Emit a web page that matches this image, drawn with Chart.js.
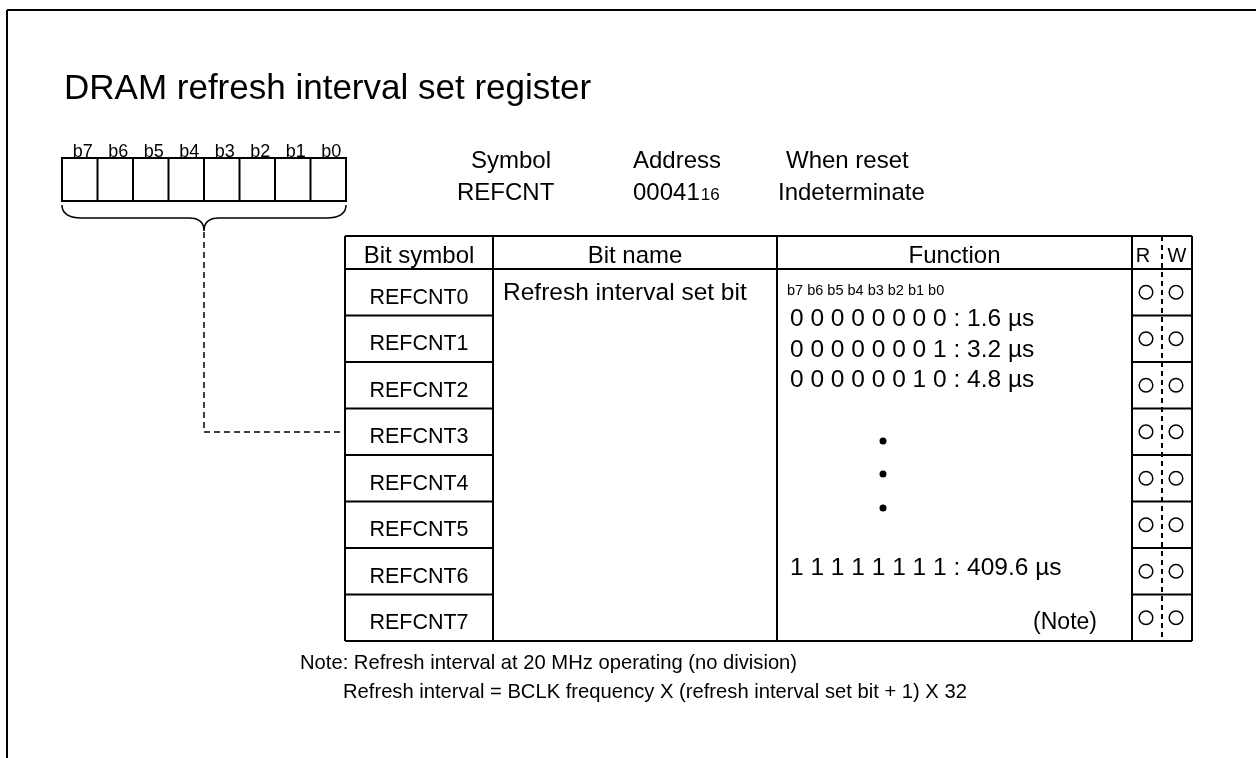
<!DOCTYPE html>
<html><head><meta charset="utf-8">
<script src="https://cdn.jsdelivr.net/npm/chart.js@4.4.1/dist/chart.umd.min.js"></script>
<style>html,body{margin:0;padding:0;background:#fff;overflow:hidden}canvas{display:block}</style>
</head><body>
<canvas id="c" width="1256" height="758"></canvas>
<script>
// ---------------- data ----------------
const titleText = 'DRAM refresh interval set register';
const bitLabels = ['b7','b6','b5','b4','b3','b2','b1','b0'];
const infoHeaders = ['Symbol','Address','When reset'];
const registerSymbol = 'REFCNT';
const registerAddress = '00041';
const addressRadix = '16';
const resetValue = 'Indeterminate';
const tableHeaders = ['Bit symbol','Bit name','Function','R','W'];
const bitSymbols = ['REFCNT0','REFCNT1','REFCNT2','REFCNT3','REFCNT4','REFCNT5','REFCNT6','REFCNT7'];
const bitName = 'Refresh interval set bit';
const functionBitsHeader = 'b7 b6 b5 b4 b3 b2 b1 b0';
const settingCodes = ['0 0 0 0 0 0 0 0','0 0 0 0 0 0 0 1','0 0 0 0 0 0 1 0','1 1 1 1 1 1 1 1'];
const settingIntervals = ['1.6 µs','3.2 µs','4.8 µs','409.6 µs'];
const functionNote = '(Note)';
const readable = [1,1,1,1,1,1,1,1];
const writable = [1,1,1,1,1,1,1,1];
const noteLines = ['Note: Refresh interval at 20 MHz operating (no division)',
                   'Refresh interval = BCLK frequency X (refresh interval set bit + 1) X 32'];

// ---------------- layout (positions / styles) ----------------
const FONT = '"Liberation Sans", Arial, Helvetica, sans-serif';
const L = {
  frameX: 7, frameY: 10,
  titleX: 64, titleY: 99, titleSize: 35,
  boxX0: 62, boxX1: 346, boxY0: 158, boxY1: 201, bitLabelY: 157, bitLabelSize: 18,
  braceTop: 205, braceMid: 218, braceTip: 231, braceCurve: 20,
  linkY: 432,
  infoX1: [471, 633, 786], infoX2: [457, 633, 778], infoY1: 168, infoY2: 200, infoSize: 24,
  cols: [345, 493, 777, 1132, 1192], rwMid: 1162,
  tblTop: 236, headBottom: 269, tblBottom: 641,
  headBaseline: 263, headSize: 24,
  rowTextSize: 21.5, rowBaselineOffset: 12,
  nameX: 503, nameBaseline: 300,
  fnX: 787, fnHeadBaseline: 295, fnHeadSize: 14.5,
  fnCodeX: 790, fnCodeBaselines: [326, 357, 387, 575], fnSize: 24.5,
  fnNoteRight: 1097, fnNoteBaseline: 629,
  dotX: 883, dotY: [441, 474, 508],
  rX: 1143, wX: 1177, circRX: 1146, circWX: 1176,
  noteX: [300, 343], noteY: [669, 698], noteSize: 20.2
};
const rowH = (L.tblBottom - L.headBottom) / bitSymbols.length;
const rowCenter = i => L.headBottom + rowH * (i + 0.5);

const rPoints = readable.map((v,i)=> v ? {x: L.circRX, y: rowCenter(i)} : null).filter(Boolean);
const wPoints = writable.map((v,i)=> v ? {x: L.circWX, y: rowCenter(i)} : null).filter(Boolean);
const dotPoints = L.dotY.map(y => ({x: L.dotX, y}));

const diagramPlugin = {
  id: 'registerDiagram',
  beforeDatasetsDraw(chart) {
    const ctx = chart.ctx;
    const xs = chart.scales.x, ys = chart.scales.y;
    const X = v => xs.getPixelForValue(v), Y = v => ys.getPixelForValue(v);
    ctx.save();
    ctx.strokeStyle = '#000'; ctx.fillStyle = '#000';
    const line = (x0,y0,x1,y1,w) => { ctx.lineWidth = w||2; ctx.beginPath(); ctx.moveTo(X(x0),Y(y0)); ctx.lineTo(X(x1),Y(y1)); ctx.stroke(); };
    const text = (s,x,y,size,align) => { ctx.font = size+'px '+FONT; ctx.textAlign = align||'left'; ctx.textBaseline = 'alphabetic'; ctx.fillText(s, X(x), Y(y)); };

    // frame
    line(L.frameX, L.frameY, 1256, L.frameY, 2);
    line(L.frameX, L.frameY, L.frameX, 758, 2);

    // title
    text(titleText, L.titleX, L.titleY, L.titleSize);

    // bit boxes
    const bw = (L.boxX1 - L.boxX0) / bitLabels.length;
    ctx.lineWidth = 2;
    ctx.strokeRect(X(L.boxX0), Y(L.boxY0), X(L.boxX1)-X(L.boxX0), Y(L.boxY1)-Y(L.boxY0));
    for (let i=1;i<bitLabels.length;i++) line(L.boxX0+bw*i, L.boxY0, L.boxX0+bw*i, L.boxY1, 2);
    bitLabels.forEach((b,i)=> text(b, L.boxX0 + bw*(i+0.5) + 3, L.bitLabelY, L.bitLabelSize, 'center'));

    // brace
    const mid = (L.boxX0 + L.boxX1)/2, c = L.braceCurve;
    ctx.lineWidth = 1.5; ctx.beginPath();
    ctx.moveTo(X(L.boxX0), Y(L.braceTop));
    ctx.quadraticCurveTo(X(L.boxX0), Y(L.braceMid), X(L.boxX0+c), Y(L.braceMid));
    ctx.lineTo(X(mid-15), Y(L.braceMid));
    ctx.quadraticCurveTo(X(mid), Y(L.braceMid), X(mid), Y(L.braceTip));
    ctx.quadraticCurveTo(X(mid), Y(L.braceMid), X(mid+15), Y(L.braceMid));
    ctx.lineTo(X(L.boxX1-c), Y(L.braceMid));
    ctx.quadraticCurveTo(X(L.boxX1), Y(L.braceMid), X(L.boxX1), Y(L.braceTop));
    ctx.stroke();

    // dashed connector
    ctx.setLineDash([6,4]); ctx.lineWidth = 1.5;
    ctx.beginPath(); ctx.moveTo(X(mid), Y(L.braceTip+1)); ctx.lineTo(X(mid), Y(L.linkY)); ctx.lineTo(X(L.cols[0]), Y(L.linkY)); ctx.stroke();
    ctx.setLineDash([]);

    // register info
    infoHeaders.forEach((h,i)=> text(h, L.infoX1[i], L.infoY1, L.infoSize));
    text(registerSymbol, L.infoX2[0], L.infoY2, L.infoSize);
    ctx.font = L.infoSize+'px '+FONT;
    const aw = ctx.measureText(registerAddress).width;
    text(registerAddress, L.infoX2[1], L.infoY2, L.infoSize);
    text(addressRadix, L.infoX2[1] + aw + 1, L.infoY2, 17);
    text(resetValue, L.infoX2[2], L.infoY2, L.infoSize);

    // table grid
    const C = L.cols;
    line(C[0], L.tblTop, C[4], L.tblTop, 2);
    line(C[0], L.headBottom, C[4], L.headBottom, 2);
    line(C[0], L.tblBottom, C[4], L.tblBottom, 2);
    C.forEach(cx => line(cx, L.tblTop, cx, L.tblBottom, 2));
    for (let i=1;i<bitSymbols.length;i++) {
      const y = L.headBottom + rowH*i;
      line(C[0], y, C[1], y, 2);
      line(C[3], y, C[4], y, 2);
    }
    ctx.setLineDash([5,4]); ctx.lineWidth = 2;
    ctx.beginPath(); ctx.moveTo(X(L.rwMid), Y(L.tblTop)); ctx.lineTo(X(L.rwMid), Y(L.tblBottom)); ctx.stroke();
    ctx.setLineDash([]);

    // headers
    text(tableHeaders[0], (C[0]+C[1])/2, L.headBaseline, L.headSize, 'center');
    text(tableHeaders[1], (C[1]+C[2])/2, L.headBaseline, L.headSize, 'center');
    text(tableHeaders[2], (C[2]+C[3])/2, L.headBaseline, L.headSize, 'center');
    text(tableHeaders[3], L.rX, L.headBaseline-1, 20, 'center');
    text(tableHeaders[4], L.wX, L.headBaseline-1, 20, 'center');

    // rows
    bitSymbols.forEach((s,i)=> text(s, (C[0]+C[1])/2, L.headBottom + rowH*(i+1) - L.rowBaselineOffset, L.rowTextSize, 'center'));
    text(bitName, L.nameX, L.nameBaseline, 24.5);

    // function column
    text(functionBitsHeader, L.fnX, L.fnHeadBaseline, L.fnHeadSize);
    settingCodes.forEach((code,i)=> text(code + ' : ' + settingIntervals[i], L.fnCodeX, L.fnCodeBaselines[i], L.fnSize));
    text(functionNote, L.fnNoteRight, L.fnNoteBaseline, 23, 'right');

    // notes
    noteLines.forEach((n,i)=> text(n, L.noteX[i], L.noteY[i], L.noteSize));
    ctx.restore();
  }
};

new Chart(document.getElementById('c'), {
  type: 'scatter',
  data: { datasets: [
    { label: 'R', data: rPoints, pointStyle: 'circle', pointRadius: 6.8, borderColor: '#000', borderWidth: 1.5, backgroundColor: '#fff' },
    { label: 'W', data: wPoints, pointStyle: 'circle', pointRadius: 6.8, borderColor: '#000', borderWidth: 1.5, backgroundColor: '#fff' },
    { label: 'ellipsis', data: dotPoints, pointStyle: 'circle', pointRadius: 3.5, borderColor: '#000', borderWidth: 0, backgroundColor: '#000' }
  ]},
  options: {
    responsive: false, devicePixelRatio: 1, animation: false,
    layout: { padding: 0, autoPadding: false },
    plugins: { legend: { display: false }, tooltip: { enabled: false }, title: { display: false } },
    scales: {
      x: { type: 'linear', min: 0, max: 1256, display: false },
      y: { type: 'linear', min: 0, max: 758, reverse: true, display: false }
    },
    elements: { point: { hoverRadius: 6.8 } },
    events: []
  },
  plugins: [diagramPlugin]
});
</script>
</body></html>
